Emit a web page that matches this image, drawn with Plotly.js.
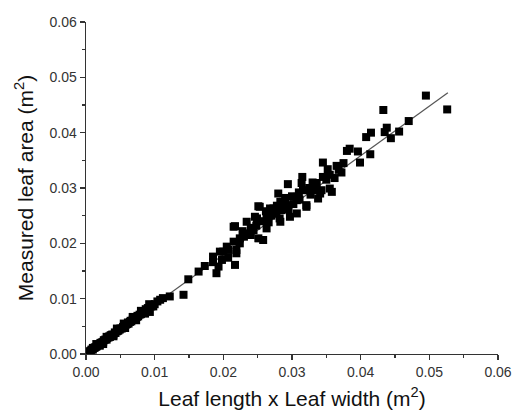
<!DOCTYPE html>
<html>
<head>
<meta charset="utf-8">
<script src="https://cdn.plot.ly/plotly-3.0.1.min.js"></script>
<style>html,body{margin:0;padding:0;background:#fff;}#chart{width:513px;height:414px;}</style>
</head>
<body>
<div id="chart"></div>
<script>
// Leaf length x leaf width (m^2)
const xVals = [
  0.0495,0.0526,0.0433,0.0470,0.0456,0.0438,0.0435,0.0444,0.0415,0.0408,
  0.0414,0.0399,0.0396,0.0380,0.0384,0.0345,0.0375,0.0372,0.0352,0.0355,
  0.0362,0.0315,0.0294,0.0280,0.0316,0.0336,0.0343,0.0358,0.0338,0.0307,
  0.0253,0.0273,0.0302,0.0321,0.0355,0.0333,0.0341,0.0321,0.0307,0.0314,
  0.0251,0.0268,0.0283,0.0292,0.0307,0.0215,0.0234,0.0249,0.0263,0.0273,
  0.0283,0.0297,0.0244,0.0263,0.0232,0.0224,0.0215,0.0205,0.0200,0.0219,
  0.0224,0.0258,0.0251,0.0246,0.0287,0.0142,0.0149,0.0164,0.0173,0.0185,
  0.0195,0.0190,0.0193,0.0217,0.0207,0.0219,0.0122,0.0108,0.0098,0.0093,
  0.0217,0.0207,0.0198,0.0185,0.0277,0.0288,0.0266,0.0240,0.0311,0.0327,
  0.0262,0.0270,0.0278,0.0285,0.0295,0.0300,0.0290,0.0282,0.0255,0.0248,
  0.0240,0.0230,0.0228,0.0310,0.0325,0.0330,0.0345,0.0350,0.0365,0.0368,
  0.0003,0.0005,0.0007,0.0008,0.0010,0.0012,0.0013,0.0015,0.0016,0.0018,
  0.0020,0.0021,0.0023,0.0025,0.0026,0.0028,0.0030,0.0031,0.0033,0.0035,
  0.0036,0.0038,0.0040,0.0042,0.0043,0.0045,0.0047,0.0049,0.0050,0.0052,
  0.0054,0.0056,0.0058,0.0060,0.0062,0.0064,0.0066,0.0068,0.0070,0.0072,
  0.0074,0.0076,0.0078,0.0080,0.0083,0.0085,0.0088,0.0090,0.0095,0.0100,
  0.0010,0.0020,0.0034,0.0048,0.0061,0.0075,0.0087,0.0065,0.0112,0.0104,
  0.0015,0.0030,0.0045,0.0055,0.0068,0.0080,0.0092,0.0025,0.0040,0.0057,
  0.0073,0.0086
];
// Measured leaf area (m^2)
const yVals = [
  0.0467,0.0442,0.0441,0.0421,0.0402,0.0409,0.0401,0.0390,0.0400,0.0392,
  0.0361,0.0346,0.0366,0.0367,0.0371,0.0346,0.0345,0.0328,0.0334,0.0324,
  0.0318,0.0320,0.0307,0.0290,0.0296,0.0309,0.0296,0.0293,0.0281,0.0284,
  0.0266,0.0263,0.0271,0.0269,0.0299,0.0296,0.0290,0.0266,0.0254,0.0309,
  0.0267,0.0263,0.0275,0.0269,0.0278,0.0230,0.0239,0.0245,0.0248,0.0254,
  0.0239,0.0248,0.0224,0.0227,0.0218,0.0209,0.0203,0.0194,0.0185,0.0188,
  0.0200,0.0206,0.0209,0.0248,0.0275,0.0107,0.0135,0.0149,0.0159,0.0176,
  0.0185,0.0146,0.0158,0.0161,0.0188,0.0182,0.0104,0.0098,0.0086,0.0076,
  0.0231,0.0174,0.0170,0.0166,0.0257,0.0262,0.0238,0.0215,0.0279,0.0288,
  0.0258,0.0250,0.0268,0.0260,0.0262,0.0285,0.0282,0.0245,0.0240,0.0232,
  0.0228,0.0212,0.0222,0.0292,0.0300,0.0310,0.0320,0.0315,0.0340,0.0333,
  0.0002,0.0005,0.0006,0.0008,0.0008,0.0011,0.0012,0.0013,0.0015,0.0017,
  0.0017,0.0020,0.0021,0.0022,0.0025,0.0026,0.0026,0.0029,0.0030,0.0031,
  0.0034,0.0035,0.0035,0.0039,0.0038,0.0041,0.0042,0.0044,0.0046,0.0046,
  0.0049,0.0050,0.0053,0.0054,0.0055,0.0058,0.0059,0.0062,0.0063,0.0064,
  0.0067,0.0068,0.0071,0.0072,0.0075,0.0077,0.0079,0.0083,0.0086,0.0090,
  0.0011,0.0015,0.0032,0.0045,0.0057,0.0069,0.0081,0.0060,0.0101,0.0095,
  0.0018,0.0031,0.0046,0.0055,0.0067,0.0078,0.0090,0.0018,0.0032,0.0047,
  0.0061,0.0073
];
// Fitted line endpoints
const fitX = [0.0, 0.0527];
const fitY = [0.0, 0.0472];

const xTitle = 'Leaf length x Leaf width (m<sup>2</sup>)';
const yTitle = 'Measured leaf area (m<sup>2</sup>)';

const traces = [
  {x: fitX, y: fitY, type: 'scatter', mode: 'lines',
   line: {color: '#555', width: 1.2}, hoverinfo: 'skip', showlegend: false},
  {x: xVals, y: yVals, type: 'scatter', mode: 'markers',
   marker: {symbol: 'square', size: 8, color: '#000', line: {width: 0}}, showlegend: false}
];

const axisCommon = {
  range: [0, 0.06], dtick: 0.01, tick0: 0, tickformat: '.2f',
  ticks: 'outside', ticklen: 5, tickwidth: 1.2, tickcolor: '#333',
  minor: {dtick: 0.005, ticks: 'outside', ticklen: 3, tickwidth: 1.2, tickcolor: '#333'},
  showline: true, linecolor: '#333', linewidth: 1.4,
  showgrid: false, zeroline: false, mirror: false,
  tickfont: {family: 'Liberation Sans, Arial, sans-serif', size: 14, color: '#333'},
  automargin: false, fixedrange: true
};

const layout = {
  width: 513, height: 414,
  margin: {l: 86, r: 15, t: 22, b: 60},
  paper_bgcolor: '#fff', plot_bgcolor: '#fff',
  showlegend: false,
  xaxis: Object.assign({}, axisCommon, {
    title: {text: xTitle, standoff: 12,
      font: {family: 'Liberation Sans, Arial, sans-serif', size: 21, color: '#111'}}
  }),
  yaxis: Object.assign({}, axisCommon, {
    title: {text: yTitle, standoff: 10,
      font: {family: 'Liberation Sans, Arial, sans-serif', size: 21, color: '#111'}}
  })
};

Plotly.newPlot('chart', traces, layout, {displayModeBar: false, staticPlot: true});
</script>
</body>
</html>
